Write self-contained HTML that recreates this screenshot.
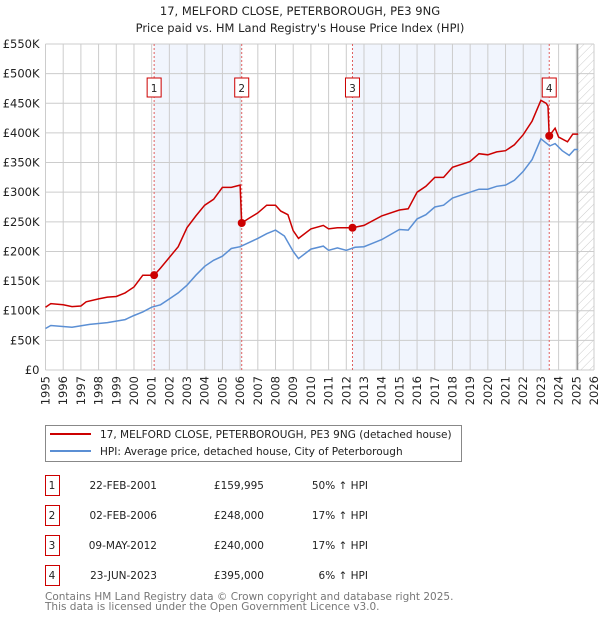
<!DOCTYPE html>
<html><head><meta charset="utf-8">
<style>
body{margin:0;background:#fff;}
svg text{font-family:"DejaVu Sans","Liberation Sans",sans-serif;}
</style></head>
<body>
<svg id="chart" width="600" height="620" xmlns="http://www.w3.org/2000/svg">
<text x="300" y="15" text-anchor="middle" font-size="11.5" fill="#222">17, MELFORD CLOSE, PETERBOROUGH, PE3 9NG</text>
<text x="300" y="32" text-anchor="middle" font-size="11.5" fill="#222">Price paid vs. HM Land Registry's House Price Index (HPI)</text>
<g id="plot"></g>
<g>
<rect x="45.5" y="425.5" width="416" height="36" fill="#fff" stroke="#888"/>
<line x1="50" y1="434" x2="91" y2="434" stroke="#cc0000" stroke-width="2"/>
<text x="100" y="438" font-size="10.5" fill="#222">17, MELFORD CLOSE, PETERBOROUGH, PE3 9NG (detached house)</text>
<line x1="50" y1="451" x2="91" y2="451" stroke="#5b8fd4" stroke-width="2"/>
<text x="100" y="455" font-size="10.5" fill="#222">HPI: Average price, detached house, City of Peterborough</text>
</g>
<g id="table" font-size="10.5" fill="#222"></g>
<text x="45" y="600" font-size="10.5" fill="#777">Contains HM Land Registry data © Crown copyright and database right 2025.</text>
<text x="45" y="610" font-size="10.5" fill="#777">This data is licensed under the Open Government Licence v3.0.</text>
</svg>
<script>
const yTicks=[0,50000,100000,150000,200000,250000,300000,350000,400000,450000,500000,550000];
const yTickLabels=["£0","£50K","£100K","£150K","£200K","£250K","£300K","£350K","£400K","£450K","£500K","£550K"];
const xYears=[1995,1996,1997,1998,1999,2000,2001,2002,2003,2004,2005,2006,2007,2008,2009,2010,2011,2012,2013,2014,2015,2016,2017,2018,2019,2020,2021,2022,2023,2024,2025,2026];
const priceT=[1995.0,1995.3,1996,1996.5,1997,1997.3,1998,1998.5,1999,1999.5,2000,2000.5,2001.14,2001.5,2002,2002.5,2003,2003.5,2004,2004.5,2005,2005.5,2006.0,2006.09,2006.5,2007,2007.5,2008,2008.3,2008.7,2009.0,2009.3,2010,2010.7,2011,2011.5,2012.35,2013,2014,2015,2015.5,2016,2016.5,2017,2017.5,2018,2019,2019.5,2020,2020.5,2021,2021.5,2022,2022.5,2023.0,2023.3,2023.4,2023.47,2023.8,2024.0,2024.5,2024.8,2025.1];
const priceV=[106000,112000,110000,107000,108000,115000,120000,123000,124000,130000,140000,160000,160000,172000,190000,208000,240000,260000,278000,288000,308000,308000,312000,248000,256000,265000,278000,278000,268000,262000,235000,222000,238000,244000,238000,240000,240000,244000,260000,270000,272000,300000,310000,325000,325000,342000,352000,365000,363000,368000,370000,380000,397000,420000,455000,450000,445000,395000,408000,393000,385000,398000,398000];
const hpiT=[1995.0,1995.3,1996.5,1997.5,1998.5,1999.5,2000,2000.5,2001,2001.5,2002,2002.5,2003,2003.5,2004,2004.5,2005,2005.5,2006,2006.5,2007,2007.5,2008,2008.5,2009,2009.3,2010,2010.7,2011,2011.5,2012,2012.5,2013,2013.5,2014,2015,2015.5,2016,2016.5,2017,2017.5,2018,2019,2019.5,2020,2020.5,2021,2021.5,2022,2022.5,2023,2023.5,2023.8,2024.2,2024.6,2024.9,2025.1];
const hpiV=[70000,75000,72000,77000,80000,85000,92000,98000,106000,110000,120000,130000,143000,160000,175000,185000,192000,205000,208000,215000,222000,230000,236000,226000,200000,188000,204000,209000,202000,206000,202000,207000,208000,214000,220000,237000,236000,255000,262000,275000,278000,290000,300000,305000,305000,310000,312000,320000,335000,355000,390000,378000,382000,370000,362000,372000,372000];
const saleT=[2001.14,2006.09,2012.35,2023.47];
const saleV=[159995,248000,240000,395000];
const saleLabels=["1","2","3","4"];
const saleDates=["22-FEB-2001","02-FEB-2006","09-MAY-2012","23-JUN-2023"];
const salePrices=["£159,995","£248,000","£240,000","£395,000"];
const saleHpi=["50% ↑ HPI","17% ↑ HPI","17% ↑ HPI","6% ↑ HPI"];
const dataEnd=2025.07;

const X0=45.5,X1=594,Y0=370,Y1=44;
const xs=t=>X0+(t-1995)/(2026-1995)*(X1-X0);
const ys=v=>Y0-v/550000*(Y0-Y1);
const NS="http://www.w3.org/2000/svg";
const plot=document.getElementById('plot');
function mk(tag,attrs,parent){const e=document.createElementNS(NS,tag);for(const k in attrs)e.setAttribute(k,attrs[k]);(parent||plot).appendChild(e);return e;}

for(let i=0;i<saleT.length;i+=2){
  const r=mk('rect',{x:xs(saleT[i]),y:Y1,width:xs(saleT[i+1])-xs(saleT[i]),height:Y0-Y1,fill:'#eef3fc',opacity:0.8});
  
  
}
const defs=mk('defs',{});
const pat=mk('pattern',{id:'hatch',width:6,height:6,patternUnits:'userSpaceOnUse',patternTransform:'rotate(45)'},defs);
mk('line',{x1:0,y1:0,x2:0,y2:6,stroke:'#ccc','stroke-width':1},pat);
const hr=mk('rect',{x:xs(dataEnd),y:Y1,width:X1-xs(dataEnd),height:Y0-Y1,fill:'url(#hatch)'});


yTicks.forEach((v,i)=>{
  const l=mk('line',{x1:X0,x2:X1,y1:ys(v),y2:ys(v),stroke:'#ccc','stroke-width':1});
  
  
  const t=mk('text',{x:X0-6,y:ys(v)+4,'text-anchor':'end','font-size':11.5,fill:'#222'});
  t.textContent=yTickLabels[i];
  
  
});
xYears.forEach(y=>{
  const l=mk('line',{x1:xs(y),x2:xs(y),y1:Y1,y2:Y0,stroke:'#ccc','stroke-width':1});
  
  
  const t=mk('text',{x:0,y:0,'text-anchor':'end','font-size':11.5,fill:'#222',transform:`translate(${xs(y)+4},${Y0+6}) rotate(-90)`});
  t.textContent=y;
  
  
});
const dl=mk('line',{x1:xs(dataEnd),x2:xs(dataEnd),y1:Y1,y2:Y0,stroke:'#999','stroke-width':1.5});


saleT.forEach((t,i)=>{
  const l=mk('line',{x1:xs(t),x2:xs(t),y1:Y1,y2:Y0,stroke:'#e06060','stroke-width':1,'stroke-dasharray':'2,2'});
  
  
  const bx=xs(t)-7,by=78;
  const b=mk('rect',{x:bx,y:by,width:14,height:19,fill:'#fff',stroke:'#cc0000','stroke-width':1});
  
  
  const tx=mk('text',{x:xs(t),y:by+14,'text-anchor':'middle','font-size':10.5,fill:'#222'});
  tx.textContent=saleLabels[i];
  
  
});
function pathOf(T,V){return T.map((t,i)=>(i?'L':'M')+xs(t).toFixed(1)+','+ys(V[i]).toFixed(1)).join(' ');}
const hp=mk('path',{d:pathOf(hpiT,hpiV),fill:'none',stroke:'#5b8fd4','stroke-width':1.5});


const pp=mk('path',{d:pathOf(priceT,priceV),fill:'none',stroke:'#cc0000','stroke-width':1.5});


saleT.forEach((t,i)=>{
  const c=mk('circle',{cx:xs(t),cy:ys(saleV[i]),r:4,fill:'#cc0000'});
  
  
});
const tb=document.getElementById('table');
saleT.forEach((t,i)=>{
  const y=475+i*30;
  const b=mk('rect',{x:45.5,y:y+0.5,width:14,height:20,fill:'#fff',stroke:'#cc0000'},tb);
  
  
  const cells=[[52,'middle',saleLabels[i]],[157,'end',saleDates[i]],[264,'end',salePrices[i]],[368,'end',saleHpi[i]]];
  cells.forEach(c=>{
    const tx=mk('text',{x:c[0],y:y+14,'text-anchor':c[1]},tb);
    tx.textContent=c[2];
    
    
  });
});
</script>
</body></html>
